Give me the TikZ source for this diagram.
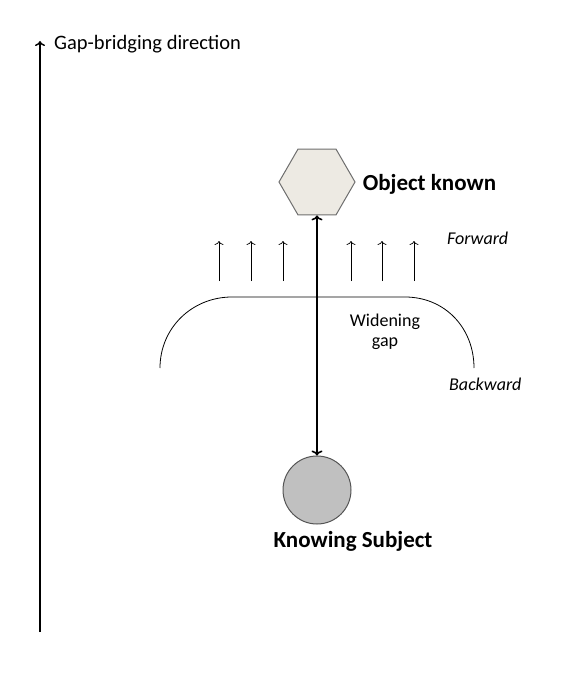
\documentclass[tikz,border=0pt]{standalone}
\usepackage{fontspec}
\setmainfont{Carlito}
\usetikzlibrary{positioning,shapes.geometric,arrows.meta}

\definecolor{hexfill}{HTML}{EDEAE3}
\definecolor{hexline}{HTML}{6E6E6E}
\definecolor{subjfill}{HTML}{C0C0C0}
\definecolor{subjline}{HTML}{555555}

\tikzset{
    bigarrow/.style={line width=1.4pt, -{To[length=5pt,width=10pt]}},
    linkarrow/.style={line width=1.6pt, {To[length=5pt,width=11pt]}-{To[length=5pt,width=11pt]}},
    smallarrow/.style={line width=0.7pt, -{To[length=4pt,width=9pt]}},
    boldlabel/.style={font=\fontsize{23}{26}\selectfont\bfseries, inner sep=0pt},
    sidelabel/.style={font=\fontsize{18}{20}\selectfont\itshape, inner sep=0pt, anchor=west},
}

\begin{document}
\begin{tikzpicture}[x=1pt,y=-1pt]
                \useasboundingbox (0,0) rectangle (567,685);

                \coordinate (axis0) at (40,632);
                \coordinate (axis1) at (40,41);
                \node [anchor=west, inner sep=0pt, font=\fontsize{20.5}{22}\selectfont] (axislabel) at (54,44) {Gap-bridging direction};

                \node [regular polygon, regular polygon sides=6, minimum size=76pt, inner sep=0pt,
                       draw=hexline, line width=1pt, fill=hexfill] (object) at (317,182) {};
                \node [boldlabel, anchor=west, right=7pt of object, yshift=-2pt] (objectlabel) {Object known};

                \node [circle, minimum size=68pt, inner sep=0pt,
                       draw=subjline, line width=1pt, fill=subjfill] (subject) at (317,490) {};
                \node [boldlabel, below=7pt of subject.south, xshift=36pt] (subjectlabel) {Knowing Subject};

                % forward arrows above the gap
                \foreach \x [count=\i] in {219,251,283,351,382,414} {
                    \coordinate (f\i) at (\x,281);
                    \coordinate (t\i) at (\x,241);
                    \draw [smallarrow] (f\i) -- (t\i);
                }

                % widening gap
                \coordinate (gapL) at (160,368);
                \coordinate (gapA) at (232,297);
                \coordinate (gapB) at (405,297);
                \coordinate (gapR) at (474,368);
                \draw [line width=0.8pt] (gapL) .. controls (160,328) and (192,297) .. (gapA)
                    -- (gapB) .. controls (445,297) and (474,328) .. (gapR);

                \node [align=center, inner sep=0pt, font=\fontsize{18}{20}\selectfont] (gaplabel) at (385,332) {Widening\\gap};
                \node [sidelabel] (forward) at (447,238) {Forward};
                \node [sidelabel] (backward) at (449,384) {Backward};

                \draw [bigarrow] (axis0) -- (axis1);
                \draw [linkarrow] (subject) -- (object);
\end{tikzpicture}
\end{document}
